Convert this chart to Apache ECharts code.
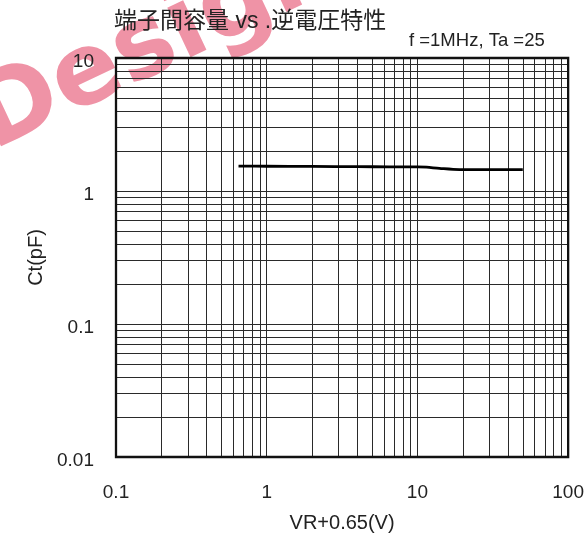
<!DOCTYPE html>
<html><head><meta charset="utf-8">
<script src="https://cdn.jsdelivr.net/npm/echarts@6/dist/echarts.min.js"></script>
<style>html,body{margin:0;padding:0;background:#fff}#c{width:587px;height:538px}</style>
</head><body><div id="c"></div>
<script>
const vr = [0.65, 1, 2, 4, 6.5, 10, 11.5, 14, 19, 30, 50];
const ct = [1.54, 1.535, 1.53, 1.525, 1.52, 1.52, 1.51, 1.48, 1.45, 1.45, 1.45];
const xTicks = [0.1, 1, 10, 100];
const yTicks = [0.01, 0.1, 1, 10];
const mult = [1, 2, 3, 4, 5, 6, 7, 8, 9];
const xDecades = [0.1, 1, 10];
const yDecades = [0.01, 0.1, 1];

const gridX = [];
xDecades.forEach(d => mult.forEach(m => gridX.push(+(d * m).toPrecision(3))));
const gridY = [];
yDecades.forEach(d => mult.forEach(m => gridY.push(+(d * m).toPrecision(3))));

const chart = echarts.init(document.getElementById('c'));
const lineStyleGrid = { color: '#2a2a2a', width: 1, type: 'solid' };
const fmt = ticks => v => { const t = ticks.find(k => Math.abs(k - v) / k < 1e-6); return t !== undefined ? String(t) : ''; };
chart.setOption({
  animation: false,
  backgroundColor: '#fff',
  title: [
    { text: '端子間容量 vs .逆電圧特性', left: 109, top: 5,
      textStyle: { fontFamily: '"Liberation Sans", "Noto Sans CJK JP"', fontSize: 23, fontWeight: 'normal', color: '#222' } },
    { text: 'f =1MHz, Ta =25', left: 404, top: 26,
      textStyle: { fontFamily: 'Liberation Sans', fontSize: 18.5, fontWeight: 'normal', color: '#222' } }
  ],
  graphic: [{
    type: 'text', x: 3, y: 172, rotation: 0.44, z: -10, silent: true,
    style: { x: 0, y: 0, text: 'Design', fontSize: 100, fontWeight: 'bold', fontFamily: 'DejaVu Sans',
      verticalAlign: 'bottom', fill: '#ef93a6', stroke: '#fff', lineWidth: 3 }
  }],
  grid: { left: 116, right: 18, top: 58, bottom: 80 },
  xAxis: {
    type: 'log', logBase: 10, min: 0.1, max: 100,
    name: 'VR+0.65(V)', nameLocation: 'middle', nameGap: 56,
    nameTextStyle: { fontFamily: 'Liberation Sans', fontSize: 20, color: '#222' },
    axisLine: { show: false }, axisTick: { show: false }, splitLine: { show: false },
    axisLabel: { margin: 26, fontFamily: 'Liberation Sans', fontSize: 19, color: '#222', formatter: fmt(xTicks) }
  },
  yAxis: {
    type: 'log', logBase: 10, min: 0.01, max: 10,
    name: 'Ct(pF)', nameLocation: 'middle', nameGap: 69, nameRotate: 90,
    nameTextStyle: { fontFamily: 'Liberation Sans', fontSize: 20, color: '#222' },
    axisLine: { show: false }, axisTick: { show: false }, splitLine: { show: false },
    axisLabel: { margin: 22, verticalAlign: 'top', lineHeight: 8, fontFamily: 'Liberation Sans', fontSize: 19, color: '#222', formatter: fmt(yTicks) }
  },
  series: [
    {
      type: 'line', data: [], silent: true,
      markLine: {
        symbol: 'none', silent: true, label: { show: false }, animation: false,
        lineStyle: lineStyleGrid,
        data: gridX.map(v => ({ xAxis: v })).concat(gridY.map(v => ({ yAxis: v })))
      }
    },
    {
      type: 'line', data: vr.map((v, i) => [v, ct[i]]), smooth: 0.3, showSymbol: false,
      lineStyle: { color: '#000', width: 2.8 }, z: 5
    }
  ]
});
const p0 = chart.convertToPixel({ gridIndex: 0 }, [0.1, 10]);
const p1 = chart.convertToPixel({ gridIndex: 0 }, [100, 0.01]);
chart.setOption({ graphic: [{}, {
  type: 'rect', z: 10, silent: true,
  shape: { x: p0[0], y: p0[1], width: p1[0] - p0[0], height: p1[1] - p0[1] },
  style: { fill: 'none', stroke: '#111', lineWidth: 2.3 }
}] });
</script></body></html>
